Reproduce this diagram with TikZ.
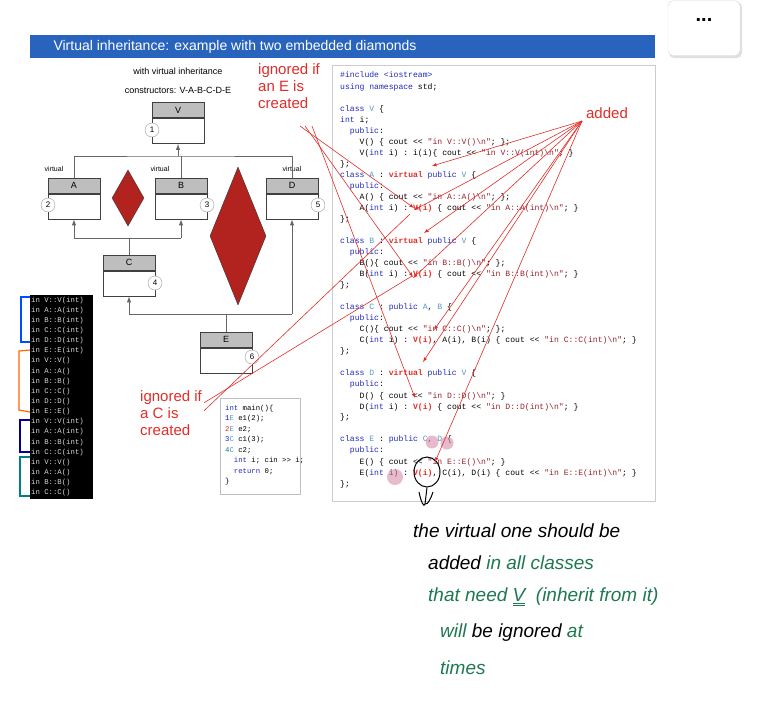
\documentclass[tikz,border=0pt]{standalone}
\usepackage{fontspec}
\setmainfont{Liberation Sans}
\setmonofont{Liberation Mono}
\usetikzlibrary{shapes.geometric}

\definecolor{slideblue}{RGB}{40,100,190}
\definecolor{hdrgray}{RGB}{190,190,190}
\definecolor{penred}{RGB}{225,45,40}
\definecolor{dred}{RGB}{178,34,30}
\definecolor{kwblue}{RGB}{30,40,190}
\definecolor{clsblue}{RGB}{80,150,200}
\definecolor{strred}{RGB}{150,30,40}
\definecolor{pengreen}{RGB}{30,120,80}
\definecolor{pinkblob}{RGB}{215,140,170}
\definecolor{consgray}{RGB}{215,215,215}

\newcommand{\kwd}[1]{\textcolor{kwblue}{#1}}
\newcommand{\cnm}[1]{\textcolor{clsblue}{#1}}
\newcommand{\strg}[1]{\textcolor{strred}{#1}}
\newcommand{\vrd}[1]{\textcolor{penred}{\bfseries #1}}
\newcommand{\bs}{\textbackslash}

% one class box: header + body
\newcommand{\classbox}[4]{%
  \node[cls head] (#1) at (#3,#4) {#2};
  \node[cls body,anchor=north] (#1b) at (#1.south) {};
}
\newcommand{\codeline}[3]{\node[code] (#1) at (340,#2) {#3};}

\begin{document}
\begin{tikzpicture}[x=1pt,y=-1pt,
  cls head/.style={draw=black!75,fill=hdrgray,line width=1pt,minimum width=52pt,minimum height=15pt,inner sep=0pt,font=\fontsize{9}{9}\selectfont},
  cls body/.style={draw=black!75,line width=1pt,minimum width=52pt,minimum height=25pt,inner sep=0pt},
  num/.style={circle,draw=black!40,fill=white,minimum size=14pt,inner sep=0pt,font=\fontsize{8}{8}\selectfont},
  conn/.style={draw=black!60,line width=1pt},
  tip/.style={conn,-latex},
  code/.style={anchor=west,inner sep=0pt,font=\ttfamily\fontsize{8.1}{8.1}\selectfont},
  cons/.style={anchor=west,inner sep=0pt,text=consgray,font=\ttfamily\fontsize{7.3}{7.3}\selectfont},
  note/.style={text=penred,font=\fontsize{15}{17}\selectfont,align=left,inner sep=0pt},
  pen/.style={penred,line width=0.6pt},
  penarrow/.style={pen,-latex},
  hand/.style={anchor=west,inner sep=0pt,font=\fontsize{19}{19}\selectfont\itshape}]
\useasboundingbox (0,0) rectangle (768,726);

% menu button
\fill[black!12,rounded corners=5pt] (669,2) rectangle (742,58);
\node[draw=black!15,fill=white,rounded corners=5pt,minimum width=72pt,minimum height=55pt] (menu) at (704,28) {};
\node[font=\bfseries\fontsize{20}{20}\selectfont,inner sep=0pt] (dots) at (704,20) {...};

% slide title
\node[fill=slideblue,minimum width=625pt,minimum height=23pt,anchor=north west,inner sep=0pt] (title) at (30,35) {};
\node[anchor=west,text=white,font=\fontsize{14}{14}\selectfont] (titletext) at (50,46.5) {Virtual inheritance: example with two embedded diamonds};

\node[font=\fontsize{9}{9}\selectfont] (sub1) at (178,71) {with virtual inheritance};
\node[font=\fontsize{9}{9}\selectfont] (sub2) at (178,90) {constructors: V-A-B-C-D-E};

% class hierarchy
\classbox{V}{V}{178}{110}
\classbox{A}{A}{74}{185.5}
\classbox{B}{B}{181}{185.5}
\classbox{D}{D}{292}{185.5}
\classbox{C}{C}{129}{262.5}
\node[cls head] (E) at (226,339.5) {E};
\node[cls body,anchor=north] (Eb) at (E.south) {};

\node[num] (n1) at (152,130) {1};
\node[num] (n2) at (48,205) {2};
\node[num] (n3) at (207,205) {3};
\node[num] (n4) at (155,283) {4};
\node[num] (n5) at (318,205) {5};
\node[num] (n6) at (252,357) {6};

\foreach \c/\x in {A/54,B/160,D/292}
  \node[font=\fontsize{7}{7}\selectfont,inner sep=0pt] (v\c) at (\x,169) {virtual};

\coordinate (busV) at (178,156);
\draw[conn] (A.north) |- (busV) -| (D.north);
\draw[conn] (B.north) -- (B.north |- busV);
\draw[tip] (busV) -- (Vb.south);
\coordinate (busC) at (129,238);
\draw[conn] (Ab.south |- busC) -- (Bb.south |- busC);
\draw[tip] (Ab.south |- busC) -- (Ab.south);
\draw[tip] (Bb.south |- busC) -- (Bb.south);
\draw[conn] (busC) -- (C.north);
\coordinate (busE) at (226,314);
\draw[conn] (Cb.south |- busE) -- (Db.south |- busE);
\draw[tip] (Cb.south |- busE) -- (Cb.south);
\draw[tip] (Db.south |- busE) -- (Db.south);
\draw[conn] (busE) -- (E.north);

% the two diamonds
\node[diamond,draw=black!80,fill=dred,minimum width=32pt,minimum height=56pt,inner sep=0pt,aspect=0.57] (dsmall) at (128,198) {};
\node[diamond,draw=black!80,fill=dred,minimum width=56pt,minimum height=138pt,inner sep=0pt,aspect=0.4] (dbig) at (238,236) {};

% console output
\node[fill=black,minimum width=63pt,minimum height=204pt,anchor=north west,inner sep=0pt] (console) at (30,295) {};
\foreach [count=\i] \t in {in V::V(int),in A::A(int),in B::B(int),in C::C(int),in D::D(int),in E::E(int),
  in V::V(),in A::A(),in B::B(),in C::C(),in D::D(),in E::E(),
  in V::V(int),in A::A(int),in B::B(int),in C::C(int),
  in V::V(),in A::A(),in B::B(),in C::C()}
  \node[cons] (out\i) at (31,{295+10.15*\i-5}) {\t};
\draw[blue!70!cyan,line width=1.2pt] (30,297) -- (21,297) -- (21,342) -- (30,342);
\draw[orange!80!red,line width=1.2pt] (30,350) -- (19,351) -- (19,410) -- (30,412);
\draw[blue!60!black,line width=1.2pt] (30,420) -- (20,420) -- (20,452) -- (30,452);
\draw[teal,line width=1.2pt] (30,457) -- (20,457) -- (20,496) -- (30,496);

% main()
\node[draw=black!25,minimum width=80pt,minimum height=96pt,anchor=north west,inner sep=0pt] (mainbox) at (220,398) {};
\node[anchor=north west,align=left,inner sep=0pt,font=\ttfamily\fontsize{7.3}{10.5}\selectfont] (maincode) at (225,405)
  {\kwd{int} main()\{\\
   \textcolor{blue}{1}\cnm{E} e1(2);\\
   \textcolor{penred}{2}\cnm{E} e2;\\
   \textcolor{kwblue}{3}\cnm{C} c1(3);\\
   \textcolor{teal}{4}\cnm{C} c2;\\
   \ \ \kwd{int} i; cin >> i;\\
   \ \ \kwd{return} 0;\\
   \}};

% source code
\node[draw=black!20,minimum width=323pt,minimum height=436pt,anchor=north west,inner sep=0pt] (srcbox) at (332,65) {};
\codeline{l1}{75}{\kwd{\#include <iostream>}}
\codeline{l2}{87}{\kwd{using namespace} std;}
\codeline{l3}{109}{\kwd{class} \cnm{V} \{}
\codeline{l4}{120}{\kwd{int} i;}
\codeline{l5}{131}{\ \ \kwd{public}:}
\codeline{l6}{142}{\ \ \ \ V() \{ cout << \strg{"in V::V()\bs n"}; \};}
\codeline{l7}{153}{\ \ \ \ V(\kwd{int} i) : i(i)\{ cout << \strg{"in V::V(int)\bs n"}; \}}
\codeline{l8}{164}{\};}
\codeline{l9}{175}{\kwd{class} \cnm{A} : \vrd{virtual} \kwd{public} \cnm{V} \{}
\codeline{l10}{186}{\ \ \kwd{public}:}
\codeline{l11}{197}{\ \ \ \ A() \{ cout << \strg{"in A::A()\bs n"}; \};}
\codeline{l12}{208}{\ \ \ \ A(\kwd{int} i) : \vrd{V(i)} \{ cout << \strg{"in A::A(int)\bs n"}; \}}
\codeline{l13}{219}{\};}
\codeline{l14}{241}{\kwd{class} \cnm{B} : \vrd{virtual} \kwd{public} \cnm{V} \{}
\codeline{l15}{252}{\ \ \kwd{public}:}
\codeline{l16}{263}{\ \ \ \ B()\{ cout << \strg{"in B::B()\bs n"}; \};}
\codeline{l17}{274}{\ \ \ \ B(\kwd{int} i) : \vrd{V(i)} \{ cout << \strg{"in B::B(int)\bs n"}; \}}
\codeline{l18}{285}{\};}
\codeline{l19}{307}{\kwd{class} \cnm{C} : \kwd{public} \cnm{A}, \cnm{B} \{}
\codeline{l20}{318}{\ \ \kwd{public}:}
\codeline{l21}{329}{\ \ \ \ C()\{ cout << \strg{"in C::C()\bs n"}; \};}
\codeline{l22}{340}{\ \ \ \ C(\kwd{int} i) : \vrd{V(i)}, A(i), B(i) \{ cout << \strg{"in C::C(int)\bs n"}; \}}
\codeline{l23}{351}{\};}
\codeline{l24}{373}{\kwd{class} \cnm{D} : \vrd{virtual} \kwd{public} \cnm{V} \{}
\codeline{l25}{384}{\ \ \kwd{public}:}
\codeline{l26}{396}{\ \ \ \ D() \{ cout << \strg{"in D::D()\bs n"}; \}}
\codeline{l27}{407}{\ \ \ \ D(\kwd{int} i) : \vrd{V(i)} \{ cout << \strg{"in D::D(int)\bs n"}; \}}
\codeline{l28}{417}{\};}
\codeline{l29}{439}{\kwd{class} \cnm{E} : \kwd{public} \cnm{C}, \cnm{D} \{}
\codeline{l30}{450}{\ \ \kwd{public}:}
\codeline{l31}{462}{\ \ \ \ E() \{ cout << \strg{"in E::E()\bs n"}; \}}
\codeline{l32}{473}{\ \ \ \ E(\kwd{int} i) : \vrd{V(i)}, C(i), D(i) \{ cout << \strg{"in E::E(int)\bs n"}; \}}
\codeline{l33}{484}{\};}

% pen marks
\fill[pinkblob,opacity=0.6] (432,442) circle (6.5pt) (447,443) circle (6.5pt) (395,477) circle (8pt);
\node[draw,ellipse,line width=1pt,minimum width=26pt,minimum height=30pt,inner sep=0pt] (ring) at (427,472) {};
\coordinate (pentip) at (425,504);
\draw[line width=1pt] (ring.south) -- (pentip);
\draw[line width=1pt] (419,492) .. controls (421,502) and (424,508) .. (pentip) .. controls (428,505) and (431,498) .. (433,492);

% red annotations
\node[note,anchor=north west] (ignE) at (258,63) {ignored if\\an E is\\created};
\node[note,anchor=north west] (ignC) at (140,390) {ignored if\\a C is\\created};
\node[note,anchor=center] (added) at (607,113) {added};
\coordinate (ad) at (582,121);
\foreach \p in {(432,166),(414,210),(424,233),(413,278),(434,330),(423,362),(435,462)}
  \draw[penarrow] (ad) -- \p;
\foreach \s/\p in {{(300,126)}/{(414,208)},{(305,126)}/{(413,277)},{(312,126)}/{(415,398)}}
  \draw[penarrow] \s -- \p;
\draw[pen] (ignC.east) ++(2,-10) -- (412,276);
\draw[pen] (ignC.east) ++(2,-2) -- (410,214);

% handwritten remark
\node[hand] (h1) at (413,531) {the virtual one should be};
\node[hand] (h2) at (428,563) {added \textcolor{pengreen}{in all classes}};
\node[hand,text=pengreen] (h3) at (428,597) {that need \underline{\underline{V}}\ \ (inherit from it)};
\node[hand] (h4) at (440,633) {\textcolor{pengreen}{will} be ignored \textcolor{pengreen}{at}};
\node[hand,text=pengreen] (h5) at (440,668) {times};
\end{tikzpicture}
\end{document}
